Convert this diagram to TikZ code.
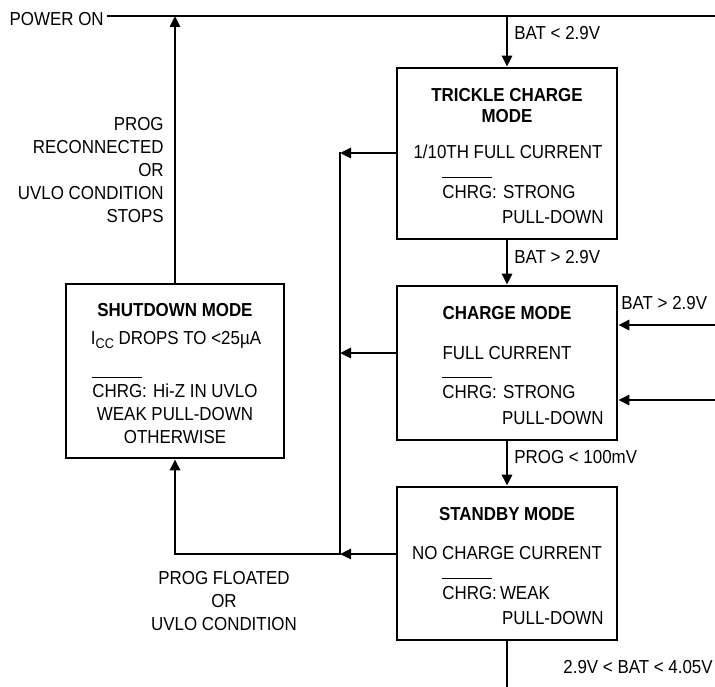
\documentclass[tikz,border=0pt]{standalone}
\usepackage{fontspec}
\setmainfont[FakeStretch=0.9]{Liberation Sans}
\usetikzlibrary{arrows.meta, positioning}
\newcommand{\chrgbar}{$\overline{\mbox{CHRG}\rule{0pt}{0.95em}}$}

\begin{document}
\begin{tikzpicture}[
    x=0.02cm, y=-0.02cm,
    mode/.style={draw, line width=1.5pt, minimum width=4.4cm, minimum height=#1, inner sep=0pt},
    txt/.style={font=\fontsize{10.7}{13.2}\selectfont, inner sep=0pt},
    head/.style={txt, font=\fontsize{10.7}{13.2}\selectfont\bfseries},
    arr/.style={-{Triangle[length=2.2mm, width=2mm]}, line width=1.5pt},
    wire/.style={line width=1.5pt, line cap=rect}
  ]
  \useasboundingbox (0,0) rectangle (715,686);

  % Mode boxes
  \node[mode=3.42cm] (trickle) at (507,153.5) {};
  \node[mode=3.08cm] (charge) at (507,363) {};
  \node[mode=3.06cm] (standby) at (507,563.5) {};
  \node[mode=3.48cm, minimum width=4.36cm] (shutdown) at (175,371) {};

  % Box texts
  \node[head] (trickleA) at (507,95) {TRICKLE CHARGE};
  \node[head] (trickleB) at (507,116) {MODE};
  \node[txt] (trickleC) at (508,152) {1/10TH FULL CURRENT};
  \node[txt, anchor=base west] (trickleD) at (442,198) {\chrgbar: STRONG};
  \node[txt, anchor=east] (trickleE) at (604,217) {PULL-DOWN};

  \node[head] (chargeA) at (507,313) {CHARGE MODE};
  \node[txt] (chargeB) at (507,353) {FULL CURRENT};
  \node[txt, anchor=base west] (chargeC) at (442,398) {\chrgbar: STRONG};
  \node[txt, anchor=east] (chargeD) at (604,418) {PULL-DOWN};

  \node[head] (standbyA) at (507,514) {STANDBY MODE};
  \node[txt] (standbyB) at (507,553) {NO CHARGE CURRENT};
  \node[txt, anchor=base west] (standbyC) at (442,599) {\chrgbar:\,WEAK};
  \node[txt, anchor=east] (standbyD) at (604,618) {PULL-DOWN};

  \node[head] (shutA) at (175,310) {SHUTDOWN MODE};
  \node[txt] (shutB) at (176,340) {I\raisebox{-0.5ex}{\footnotesize CC} DROPS TO <25µA};
  \node[txt, align=center] (shutC) at (175,410) {\chrgbar: Hi-Z IN UVLO\\WEAK PULL-DOWN\\OTHERWISE};

  % Power on line
  \node[txt, anchor=east] (pwr) at (104,19) {POWER ON};
  \coordinate (pwrR) at (715,16);
  \draw[wire] (pwr.east |- pwrR) ++(4,0) -- (pwrR);
  \draw[arr] (shutdown.north) -- (shutdown.north |- pwrR);
  \draw[arr] (trickle.north |- pwrR) -- (trickle.north);
  \node[txt, anchor=west] (batLow) at (514,33) {BAT < 2.9V};

  % Down the chain
  \draw[arr] (trickle) -- (charge);
  \node[txt, anchor=west] (batHi) at (514,257) {BAT > 2.9V};
  \draw[arr] (charge) -- (standby);
  \node[txt, anchor=west] (progLow) at (514,457) {PROG < 100mV};
  \coordinate (sbEnd) at (507,686);
  \draw[wire] (standby.south) -- (sbEnd);
  \node[txt, anchor=east] (batRange) at (713,667) {2.9V < BAT < 4.05V};

  % Inputs on the right
  \coordinate (inA) at (715,325);
  \coordinate (inB) at (715,400);
  \draw[arr] (inA) -- (inA -| charge.east);
  \draw[arr] (inB) -- (inB -| charge.east);
  \node[txt, anchor=west] (batHi2) at (621,303) {BAT > 2.9V};

  % Bus to shutdown
  \coordinate (busT) at (340,153);
  \coordinate (busM) at (340,353);
  \coordinate (busB) at (340,554);
  \draw[arr] (busT -| trickle.west) -- (busT);
  \draw[arr] (busM -| charge.west) -- (busM);
  \draw[arr] (busB -| standby.west) -- (busB);
  \draw[wire] (busT) -- (busB);
  \draw[arr] (busB) -| (shutdown.south);

  % Labels
  \node[txt, anchor=east, align=right] (reconn) at (164,170) {PROG\\RECONNECTED\\OR\\UVLO CONDITION\\STOPS};
  \node[txt, align=center] (floated) at (224,601) {PROG FLOATED\\OR\\UVLO CONDITION};

\end{tikzpicture}
\end{document}
